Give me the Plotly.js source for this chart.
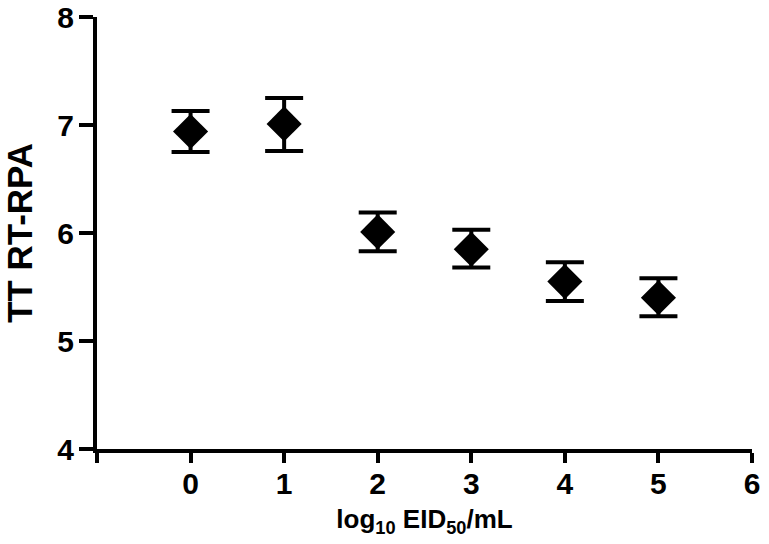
<!DOCTYPE html>
<html>
<head>
<meta charset="utf-8">
<script src="https://cdn.plot.ly/plotly-3.0.1.min.js"></script>
<style>html,body{margin:0;padding:0;background:#fff;}#chart{width:769px;height:544px;}</style>
</head>
<body>
<div id="chart"></div>
<script>
const xValues = [0, 1, 2, 3, 4, 5];
const meanValues = [6.94, 7.01, 6.01, 5.85, 5.55, 5.40];
const errUpper = [0.19, 0.24, 0.18, 0.18, 0.18, 0.18];
const errLower = [0.19, 0.25, 0.18, 0.17, 0.18, 0.17];
const xTickVals = [-1, 0, 1, 2, 3, 4, 5, 6];
const xTickText = ['', '0', '1', '2', '3', '4', '5', '6'];
const yTickVals = [4, 5, 6, 7, 8];
const yTickText = ['4', '5', '6', '7', '8'];

const bold = s => s ? '<b>' + s + '</b>' : ' ';

const trace = {
  x: xValues,
  y: meanValues,
  type: 'scatter',
  mode: 'markers',
  marker: {symbol: 'diamond', size: 27, color: '#000'},
  error_y: {type: 'data', symmetric: false, array: errUpper, arrayminus: errLower,
            color: '#000', thickness: 4, width: 19},
  hoverinfo: 'none'
};

const family = 'Liberation Sans, Arial, sans-serif';
const layout = {
  width: 769, height: 544,
  margin: {l: 97, r: 17, t: 17, b: 95, pad: 0},
  paper_bgcolor: '#fff', plot_bgcolor: '#fff',
  showlegend: false,
  font: {family: family, color: '#000'},
  xaxis: {
    range: [-1, 6], tickmode: 'array', tickvals: xTickVals, ticktext: xTickText.map(bold),
    showgrid: false, zeroline: false, showline: true, linecolor: '#000', linewidth: 4,
    ticks: 'outside', ticklen: 10, tickwidth: 4, tickcolor: '#000',
    ticklabelstandoff: -5, ticklabeloverflow: 'allow',
    tickfont: {family: family, size: 30, color: '#000'},
    title: {text: '<b>log<sub>10</sub> EID<sub>50</sub>/mL</b>', standoff: 12,
            font: {family: family, size: 26, color: '#000'}},
    automargin: false, fixedrange: true
  },
  yaxis: {
    range: [4, 8], tickmode: 'array', tickvals: yTickVals, ticktext: yTickText.map(bold),
    showgrid: false, zeroline: false, showline: true, linecolor: '#000', linewidth: 4,
    ticks: 'outside', ticklen: 14, tickwidth: 4, tickcolor: '#000',
    ticklabelstandoff: -1, ticklabeloverflow: 'allow',
    tickfont: {family: family, size: 30, color: '#000'},
    title: {text: '<b>TT RT-RPA</b>', standoff: 24,
            font: {family: family, size: 35, color: '#000'}},
    automargin: false, fixedrange: true
  }
};

Plotly.newPlot('chart', [trace], layout, {staticPlot: true, displayModeBar: false});
</script>
</body>
</html>
